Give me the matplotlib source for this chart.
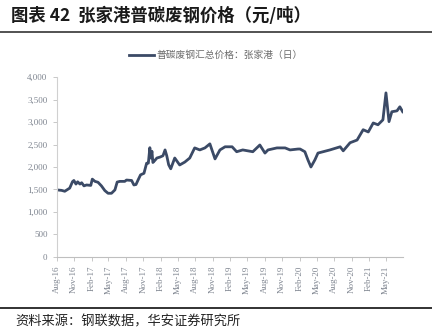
import matplotlib
matplotlib.use("Agg")
import matplotlib.pyplot as plt
import matplotlib.dates as mdates
from matplotlib.ticker import FuncFormatter
import pandas as pd

plt.rcParams['font.family'] = ['Noto Sans CJK SC', 'DejaVu Sans']

title = "图表 42  张家港普碳废钢价格（元/吨）"
series_name = "普碳废钢汇总价格：张家港（日）"
source = "资料来源：钢联数据，华安证券研究所"

dates = [
    "2016-08-02", "2016-08-27", "2016-09-13", "2016-10-09", "2016-10-24", "2016-10-31",
    "2016-11-11", "2016-11-20", "2016-12-02", "2016-12-11", "2016-12-23", "2017-01-06",
    "2017-01-28", "2017-02-05", "2017-02-19", "2017-03-07", "2017-03-25", "2017-04-12",
    "2017-04-29", "2017-05-17", "2017-06-04", "2017-06-16", "2017-06-30", "2017-07-26",
    "2017-08-04", "2017-08-31", "2017-09-12", "2017-09-23", "2017-10-05", "2017-10-17",
    "2017-11-04", "2017-11-18", "2017-11-27", "2017-12-05", "2017-12-10", "2017-12-16",
    "2017-12-21", "2018-01-01", "2018-01-11", "2018-01-27", "2018-02-12", "2018-02-23",
    "2018-03-04", "2018-03-14", "2018-03-25", "2018-04-15", "2018-05-11", "2018-06-07",
    "2018-07-03", "2018-07-29", "2018-08-25", "2018-09-21", "2018-10-17", "2018-11-13",
    "2018-12-09", "2019-01-05", "2019-02-11", "2019-03-07", "2019-04-08", "2019-05-31",
    "2019-07-07", "2019-08-03", "2019-08-19", "2019-10-05", "2019-11-17", "2019-12-13",
    "2020-01-24", "2020-02-04", "2020-02-29", "2020-03-16", "2020-04-01", "2020-04-22",
    "2020-05-08", "2020-06-04", "2020-07-10", "2020-09-02", "2020-09-18", "2020-10-24",
    "2020-11-30", "2021-01-01", "2021-01-28", "2021-02-23", "2021-03-20", "2021-04-15",
    "2021-05-01", "2021-05-17", "2021-06-01", "2021-06-28", "2021-07-13", "2021-07-28",
]
prices = [
    1490, 1480, 1460, 1530, 1675, 1700,
    1620, 1670, 1620, 1650, 1580, 1600,
    1590, 1730, 1680, 1660, 1580, 1475,
    1415, 1415, 1490, 1665, 1680, 1680,
    1710, 1700, 1600, 1610, 1720, 1825,
    1860, 2085, 2085, 2430, 2200, 2350,
    2100, 2150, 2200, 2220, 2250, 2380,
    2250, 2050, 1960, 2200, 2045, 2110,
    2200, 2425, 2380, 2425, 2515, 2180,
    2380, 2450, 2450, 2340, 2380, 2340,
    2490, 2310, 2380, 2425, 2425, 2380,
    2400, 2400, 2340, 2160, 2000, 2160,
    2310, 2340, 2380, 2450, 2360, 2540,
    2600, 2830, 2780, 2980, 2940, 3050,
    3650, 3010, 3230, 3250, 3340, 3230,
]
x = pd.to_datetime(dates)

fig = plt.figure(figsize=(4.32, 3.34), dpi=100)
ax = fig.add_axes([0.131, 0.231, 0.802, 0.538])

line, = ax.plot(x, prices, color='#3B4A66', lw=2.0, solid_joinstyle='round')

ax.set_ylim(0, 4000)
ax.set_yticks(range(0, 4001, 500))
ax.yaxis.set_major_formatter(FuncFormatter(lambda v, p: f"{int(v):,}"))
ax.set_xlim(pd.Timestamp("2016-08-01"), pd.Timestamp("2021-07-30"))
ax.xaxis.set_major_locator(mdates.MonthLocator(bymonth=[2, 5, 8, 11]))
ax.xaxis.set_major_formatter(mdates.DateFormatter("%b-%y"))

for s in ['top', 'right']:
    ax.spines[s].set_visible(False)
ax.spines['left'].set_color('#d0d0d0')
ax.spines['bottom'].set_color('#bfbfbf')
ax.tick_params(axis='both', colors='#bfbfbf', length=3, width=0.6)
for lab in ax.get_yticklabels():
    lab.set_fontfamily('Liberation Serif'); lab.set_fontsize(6.5); lab.set_color('#7f8590')
for lab in ax.get_xticklabels():
    lab.set_fontfamily('Liberation Serif'); lab.set_fontsize(6.5); lab.set_color('#7f8590')
    lab.set_rotation(90)

leg = fig.legend([line], [series_name], loc='center', bbox_to_anchor=(0.5, 0.835),
                 frameon=False, fontsize=7, handlelength=2.6, handletextpad=0.3)
for t in leg.get_texts():
    t.set_color('#6b6b6b')

fig.text(0.025, 0.953, title, fontsize=12.5, fontweight='bold', color='#1a1a1a', va='center')
fig.add_artist(plt.Line2D([0, 1], [0.905, 0.905], color='#444444', lw=1.3))
fig.add_artist(plt.Line2D([0, 1], [0.078, 0.078], color='#222222', lw=1.3))
fig.text(0.035, 0.036, source, fontsize=9.5, color='#222222', va='center')

fig.savefig("out.png", dpi=100)
